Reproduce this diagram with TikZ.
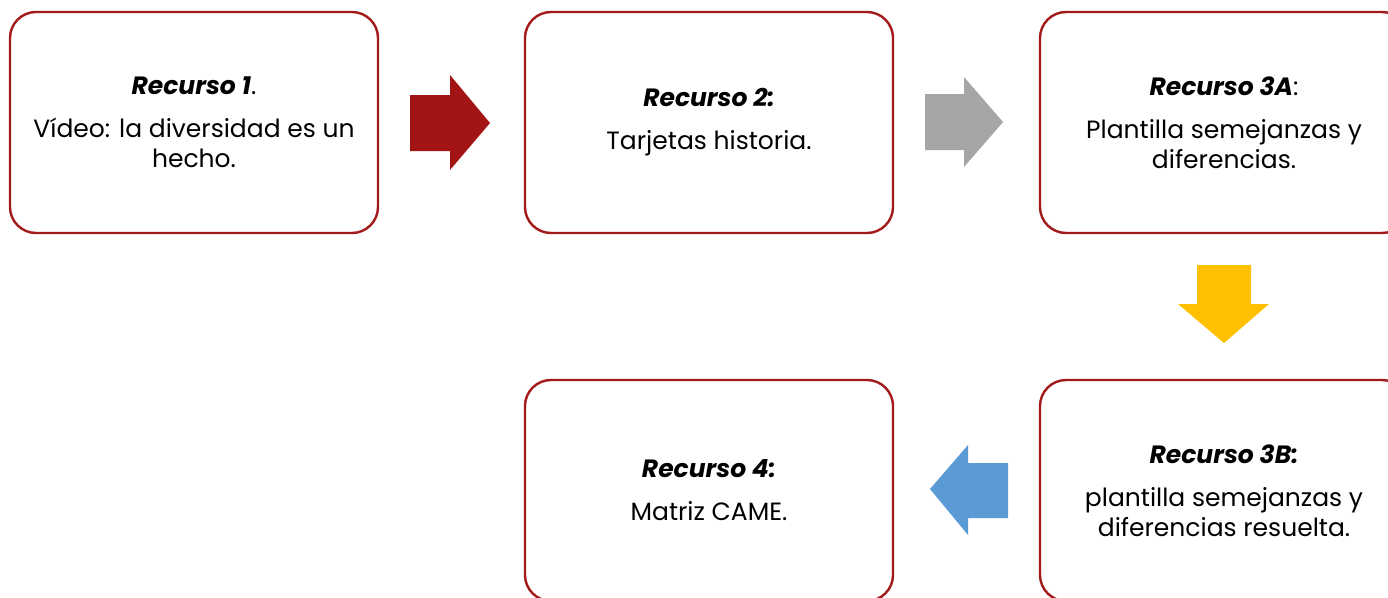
\documentclass[tikz,border=0pt]{standalone}
\usepackage{fontspec}
\setmainfont{Poppins}
\begin{document}
\begin{tikzpicture}[x=1pt,y=-1pt,
  card/.style={draw=cardred, line width=2.4pt, rounded corners=26pt, fill=white,
    minimum width=368pt, minimum height=221pt, align=center,
    font=\fontsize{25}{30}\selectfont, inner sep=0pt}]
\definecolor{cardred}{HTML}{A31A1A}
\definecolor{arrred}{HTML}{A31515}
\definecolor{arrgray}{HTML}{A6A6A6}
\definecolor{arryellow}{HTML}{FFC000}
\definecolor{arrblue}{HTML}{5B9BD5}
\clip (0,0) rectangle (1388,597);
\fill[white] (0,0) rectangle (1388,597);

% resource cards
\node[card] (r1) at (194,122.5) {{\bfseries\itshape Recurso 1}.\\[13pt]V\'ideo: la diversidad es un\\hecho.};
\node[card] (r2) at (709,122.5) {{\bfseries\itshape Recurso 2:}\\[13pt]Tarjetas historia.};
\node[card] (r3) at (1224,122.5) {{\bfseries\itshape Recurso 3A}:\\[13pt]Plantilla semejanzas y\\diferencias.};
\node[card] (r4) at (709,490.5) {{\bfseries\itshape Recurso 4:}\\[13pt]Matriz CAME.};
\node[card] (r5) at (1224,490.5) {{\bfseries\itshape Recurso 3B:}\\[13pt]plantilla semejanzas y\\diferencias resuelta.};

% block arrows between the cards
\fill[arrred] (410,95) -- (450,95) -- (450,75) -- (490,123) -- (450,170) -- (450,151) -- (410,151) -- cycle;
\fill[arrgray] (925,94) -- (964,94) -- (964,77) -- (1003,122) -- (964,167) -- (964,150) -- (925,150) -- cycle;
\fill[arryellow] (1197,265) -- (1251,265) -- (1251,304) -- (1269,304) -- (1224,343) -- (1178,304) -- (1197,304) -- cycle;
\fill[arrblue] (1008,463) -- (968,463) -- (968,445) -- (930,489) -- (968,535) -- (968,518) -- (1008,518) -- cycle;
\end{tikzpicture}
\end{document}
